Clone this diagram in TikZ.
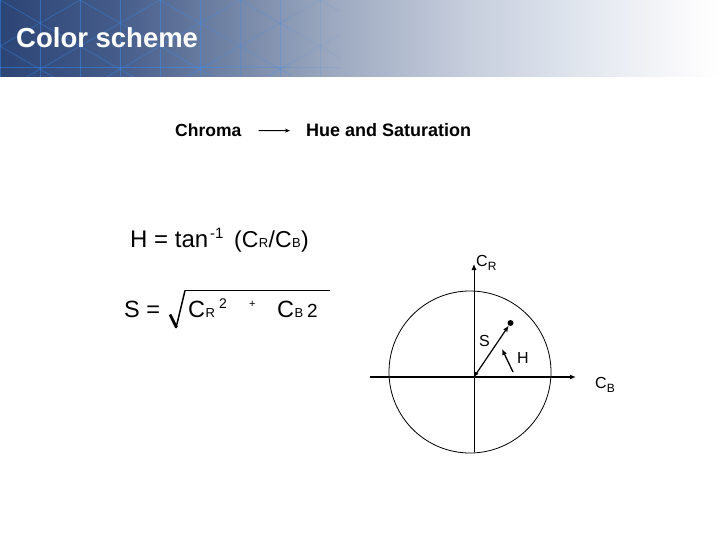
\documentclass[tikz,border=0pt]{standalone}
\usepackage{fontspec}
\setmainfont{Liberation Sans}
\usetikzlibrary{arrows.meta}
\pgfdeclarehorizontalshading{hdrshade}{100bp}{rgb(0bp)=(0.17,0.27,0.46); rgb(25bp)=(0.17,0.27,0.46); rgb(33bp)=(0.27,0.36,0.54); rgb(41bp)=(0.45,0.52,0.65); rgb(48bp)=(0.61,0.66,0.75); rgb(57bp)=(0.77,0.80,0.86); rgb(66bp)=(0.89,0.91,0.94); rgb(72bp)=(0.97,0.97,0.98); rgb(75bp)=(1,1,1); rgb(100bp)=(1,1,1)}
\newcommand\hdrpat{%
  \foreach \k in {-2,...,9} \draw (40*\k,0) -- (40*\k,77);
  \foreach \k in {-3,...,5} \draw (80*\k,0) -- (80*\k+133.4,77);
  \foreach \k in {0,...,7} \draw (80*\k,0) -- (80*\k-133.4,77);
  \draw (0,67) -- (340,67);
}
\tikzset{
  lbl/.style={inner sep=0pt, font=\fontsize{17.5}{20}\selectfont\bfseries},
  fm/.style={inner sep=0pt, font=\fontsize{23}{26}\selectfont},
  fmb/.style={inner sep=0pt, font=\fontsize{23.5}{26}\selectfont},
  fms/.style={inner sep=0pt, font=\fontsize{13}{14}\selectfont},
  axisline/.style={line width=1.6pt, -{Latex[length=6pt,width=5pt]}},
  vaxis/.style={line width=0.9pt, -{Latex[length=6pt,width=5pt]}},
  vec/.style={line width=1.2pt, {Latex[length=5pt,width=4pt]}-{Latex[length=6pt,width=5pt]}},
  dotnode/.style={circle, fill=black, inner sep=0pt, minimum size=6pt},
  patline/.style={draw=blue!55!cyan!80!white, line width=0.6pt}
}
\begin{document}
\begin{tikzpicture}[x=1pt,y=-1pt]
\useasboundingbox (0,0) rectangle (720,540);
% header band
\shade[shading=hdrshade] (0,0) rectangle (720,77);
\begin{scope}
  \clip (0,0) rectangle (220,77);
  \begin{scope}[patline, opacity=0.45] \hdrpat \end{scope}
\end{scope}
\begin{scope}
  \clip (220,0) rectangle (290,77);
  \begin{scope}[patline, opacity=0.28] \hdrpat \end{scope}
\end{scope}
\begin{scope}
  \clip (290,0) rectangle (340,77);
  \begin{scope}[patline, opacity=0.12] \hdrpat \end{scope}
\end{scope}
\node[anchor=base west, inner sep=0pt, text=white, font=\fontsize{27.5}{30}\selectfont\bfseries] (title) at (16,47.5) {Color scheme};

% Chroma -> Hue and Saturation
\node[lbl, anchor=base west] (chroma) at (175,137) {Chroma};
\node[lbl, anchor=base west, font=\fontsize{18}{20}\selectfont\bfseries] (hue) at (306,137) {Hue and Saturation};
\draw[line width=0.9pt, -{Stealth[length=5pt,width=4pt]}, shorten <=17pt, shorten >=16pt] (chroma.east) -- (hue.west);

% H formula
\node[inner sep=0pt, font=\fontsize{24}{26}\selectfont, anchor=base west] (h1) at (130,247.5) {H = tan};
\node[inner sep=0pt, font=\fontsize{15}{16}\selectfont, anchor=base west] (h2) at (h1.base east) [yshift=8.5pt, xshift=1.5pt] {-1};
\node[fm, anchor=base west] (h3) at (234,247.5) {(C};
\node[fms, anchor=base west] (h4) at (h3.base east) {R};
\node[fm, anchor=base west] (h5) at (h4.base east) {/C};
\node[fms, anchor=base west] (h6) at (h5.base east) {B};
\node[fm, anchor=base west] (h7) at (h6.base east) {)};

% S formula
\node[fmb, anchor=base west] (s1) at (124,317.5) {S =};
\draw[line width=2.8pt] (170,314.5) -- (176.5,327.5);
\draw[line width=1.5pt] (176,328) -- (185,290.5);
\draw[line width=1.3pt] (185,290.5) -- (330,290.5);
\node[fmb, anchor=base west] (s2) at (188,317.5) {C};
\node[fms, anchor=base west] (s3) at (s2.base east) {R};
\node[inner sep=0pt, font=\fontsize{14}{15}\selectfont, anchor=base west] (s4) at (219,308.5) {2};
\node[inner sep=0pt, font=\fontsize{11}{12}\selectfont, anchor=base west] (s5) at (249,307) {+};
\node[fmb, anchor=base west] (s6) at (277,317.5) {C};
\node[fms, anchor=base west] (s7) at (s6.base east) {B};
\node[inner sep=0pt, font=\fontsize{19}{20}\selectfont, anchor=base west] (s8) at (307,317.5) {2};

% diagram
\coordinate (O) at (474,377);
\coordinate (ytop) at (474,264);
\coordinate (ybot) at (474,452);
\coordinate (xl) at (370,377);
\coordinate (xr) at (576,377);
\draw[line width=0.8pt] (470,372) circle [radius=81pt];
\draw[vaxis] (ybot) -- (ytop);
\draw[axisline] (xl) -- (xr);
\node[inner sep=0pt, anchor=base west] (cr) at (476,266) {\fontsize{16}{16}\selectfont C\raisebox{-4pt}{\fontsize{12}{12}\selectfont R}};
\node[inner sep=0pt, anchor=base west] (cb) at (595,388) {\fontsize{16}{16}\selectfont C\raisebox{-4pt}{\fontsize{12}{12}\selectfont B}};
\node[dotnode] (sd) at (510.5,323) {};
\draw[vec] (O) -- (sd);
\node[inner sep=0pt, font=\fontsize{16}{16}\selectfont] (slbl) at (484.5,341) {S};
\node[inner sep=0pt, font=\fontsize{16}{16}\selectfont] (hlbl) at (523,357.5) {H};
\coordinate (htail) at (513,372);
\coordinate (hhead) at (502,349);
\draw[line width=1.3pt, -{Latex[length=6pt,width=5pt]}] (htail) -- (hhead);
\end{tikzpicture}
\end{document}
